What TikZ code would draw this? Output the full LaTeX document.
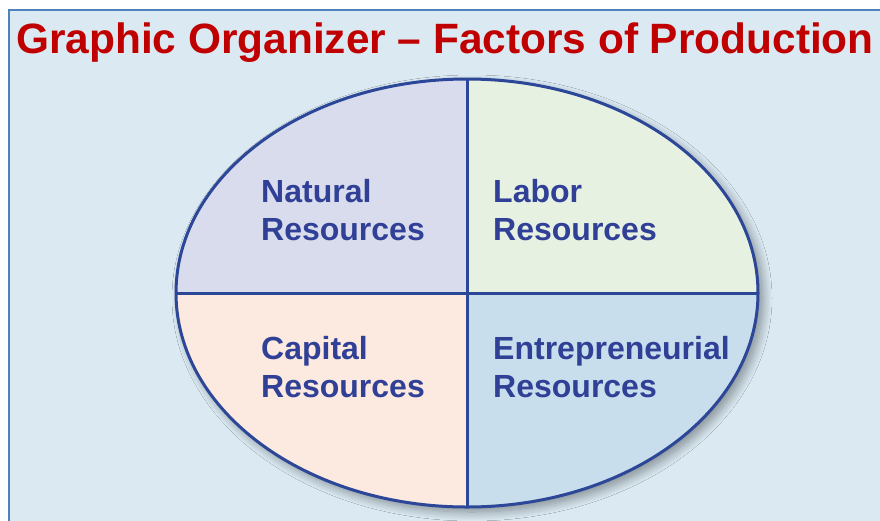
\documentclass[tikz,border=0pt]{standalone}
\usepackage{fontspec}
\setmainfont{Liberation Sans}
\usetikzlibrary{shadows.blur}
\definecolor{panelbg}{RGB}{218,233,242}
\definecolor{panelline}{RGB}{79,129,189}
\definecolor{titlered}{RGB}{192,0,0}
\definecolor{ovalblue}{RGB}{44,70,152}
\definecolor{labelblue}{RGB}{47,64,150}
\definecolor{naturalbg}{RGB}{217,220,236}
\definecolor{laborbg}{RGB}{230,241,226}
\definecolor{capitalbg}{RGB}{252,233,223}
\definecolor{entrebg}{RGB}{200,222,236}

\begin{document}
\begin{tikzpicture}[x=1pt,y=-1pt,
  quadlabel/.style={anchor=base west,align=left,inner sep=0pt,
    text=labelblue,font=\fontsize{32}{38}\selectfont\bfseries},
  divider/.style={draw=ovalblue,line width=3pt}]
\useasboundingbox (0,0) rectangle (880,520);

% panel behind everything
\fill[panelbg] (8.5,9.5) rectangle (890,530);
\draw[panelline,line width=2pt] (8.5,530) -- (8.5,9.5) -- (890,9.5);

\node[anchor=base west,inner sep=0pt,text=titlered,
  font=\fontsize{42.4}{48}\selectfont\bfseries] (title) at (16,53)
  {Graphic Organizer -- Factors of Production};

% the oval, its shadow and four quarters
\coordinate (c) at (467,293);
\fill[ovalblue,blur shadow={shadow xshift=5pt,shadow yshift=-5pt,
  shadow blur radius=9pt,shadow blur steps=12,shadow opacity=40}]
  (c) ellipse [x radius=291,y radius=214];
\begin{scope}
  \clip (c) ellipse [x radius=291,y radius=214];
  \fill[naturalbg] (c) rectangle (170,70);
  \fill[laborbg] (c) rectangle (770,70);
  \fill[capitalbg] (c) rectangle (170,520);
  \fill[entrebg] (c) rectangle (770,520);
  \path[divider] (170,293) -- (770,293) (467,70) -- (467,520);
\end{scope}
\path[divider] (c) ellipse [x radius=291,y radius=214];

% base anchor sits on the second line
\node[quadlabel] (natural) at (261,240) {Natural\\Resources};
\node[quadlabel] (labor) at (493,240) {Labor\\Resources};
\node[quadlabel] (capital) at (261,397) {Capital\\Resources};
\node[quadlabel] (entre) at (493,397) {Entrepreneurial\\Resources};

\end{tikzpicture}
\end{document}
